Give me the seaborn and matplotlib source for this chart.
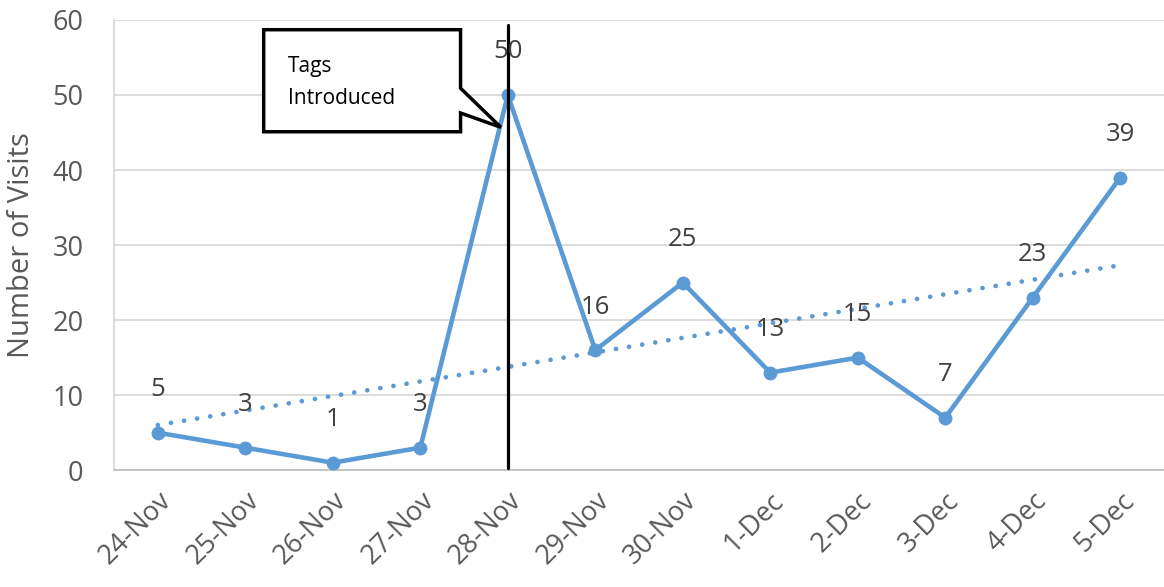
import numpy as np
import pandas as pd
import matplotlib
matplotlib.use("Agg")
import matplotlib.pyplot as plt
from matplotlib.patches import Polygon
import seaborn as sns

# data
dates = ['24-Nov', '25-Nov', '26-Nov', '27-Nov', '28-Nov', '29-Nov',
         '30-Nov', '1-Dec', '2-Dec', '3-Dec', '4-Dec', '5-Dec']
visits = [5, 3, 1, 3, 50, 16, 25, 13, 15, 7, 23, 39]
event_day = '28-Nov'
event_text = 'Tags\nIntroduced'

blue = '#5B9BD5'
grid_col = '#D9D9D9'

sns.set_theme(style='white')
plt.rcParams['font.family'] = ['Open Sans', 'DejaVu Sans']

df = pd.DataFrame({'Date': dates, 'Visits': visits})
df['pos'] = np.arange(len(df))

fig = plt.figure(figsize=(11.64, 5.87), dpi=100)
ax = fig.add_axes([0.098, 0.199, 0.902, 0.767])

sns.lineplot(data=df, x='pos', y='Visits', ax=ax, color=blue, linewidth=3.3,
             marker='o', markersize=10, markeredgewidth=0, zorder=3)

# linear trendline
k, b = np.polyfit(df['pos'], df['Visits'], 1)
ax.plot(df['pos'], k * df['pos'] + b, color=blue, linewidth=3.4,
        linestyle=(0, (0.01, 2.8)), dash_capstyle='round', zorder=2)

# data labels
for x, y in zip(df['pos'], df['Visits']):
    ax.annotate(str(y), (x, y), xytext=(0, 31), textcoords='offset points',
                ha='center', va='center', fontsize=18.5, color='#404040', zorder=5)

# vertical marker line at the event
ev = dates.index(event_day)
ax.plot([ev, ev], [0.3, 59.3], color='black', linewidth=2.3, zorder=4)

# callout box
box = Polygon([(1.21, 58.7), (3.46, 58.7), (3.46, 50.9), (3.92, 45.7),
               (3.46, 47.6), (3.46, 45.1), (1.21, 45.1)],
              closed=True, facecolor='white', edgecolor='black',
              linewidth=2.5, zorder=6)
ax.add_patch(box)
ax.text(1.49, 51.7, event_text, ha='left', va='center', fontsize=15,
        color='black', linespacing=1.7, zorder=7)

ax.set_xlim(-0.5, len(dates) - 0.5)
ax.set_ylim(0, 60)
ax.set_yticks(range(0, 61, 10))
ax.set_xticks(df['pos'])
ax.set_xticklabels(dates, rotation=45, ha='right', rotation_mode='anchor')
ax.tick_params(axis='both', length=0, labelsize=19.5, colors='#595959')
ax.tick_params(axis='y', pad=22)
ax.tick_params(axis='x', pad=12)
ax.set_xlabel('')
ax.set_ylabel('Number of Visits', fontsize=21, color='#595959', labelpad=12)

ax.grid(axis='y', color=grid_col, linewidth=1.3)
ax.set_axisbelow(True)
for s in ['top', 'right']:
    ax.spines[s].set_visible(False)
ax.spines['left'].set_color(grid_col)
ax.spines['left'].set_linewidth(1.3)
ax.spines['bottom'].set_color('#BFBFBF')
ax.spines['bottom'].set_linewidth(1.3)

fig.savefig('out.png', dpi=100)
